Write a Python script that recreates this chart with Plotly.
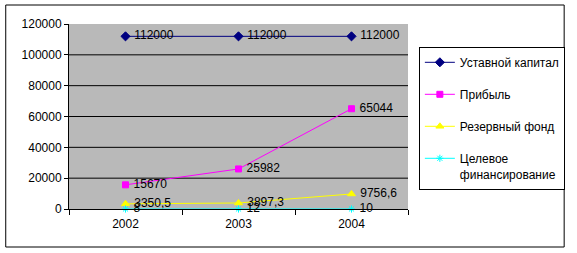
import plotly.graph_objects as go

years = ["2002", "2003", "2004"]
ustav = [112000, 112000, 112000]
pribyl = [15670, 25982, 65044]
rezerv = [3350.5, 3897.3, 9756.6]
celevoe = [8, 12, 10]
y_ticks = [0, 20000, 40000, 60000, 80000, 100000, 120000]
grid_vals = [20000, 40000, 60000, 80000, 100000]

names = ["Уставной капитал", "Прибыль", "Резервный фонд", "Целевое<br>финансирование"]

def fmt(v):
    s = ("%g" % v)
    return " " + s.replace(".", ",")

series = [
    (names[0], ustav, "#000080", "diamond", 7),
    (names[1], pribyl, "#FF00FF", "square", 6),
    (names[2], rezerv, "#FFFF00", "triangle-up", 7),
    (names[3], celevoe, "#00FFFF", "asterisk-open", 6),
]

fig = go.Figure()
for i, (nm, vals, col, sym, sz) in enumerate(series):
    fig.add_trace(go.Scatter(
        x=years, y=vals, name=nm, mode="lines+markers+text",
        line=dict(color=col, width=1),
        marker=dict(color=col, symbol=sym, size=sz, line=dict(color=col, width=1)),
        text=[fmt(v) for v in vals], textposition="middle right",
        textfont=dict(family="Liberation Sans, Arial", size=12, color="black"),
        legendgroup="g%d" % i, cliponaxis=False,
    ))

L, R, T, B = 69, 165, 24, 44
W, H = 577, 253
pw, ph = W - L - R, H - T - B

shapes = [dict(
    type="rect", xref="paper", yref="paper",
    x0=(5 - L) / pw, x1=(570 - L) / pw,
    y0=(H - B - 247) / ph, y1=(H - B - 5) / ph,
    line=dict(color="black", width=1), fillcolor="rgba(0,0,0,0)", layer="below",
)]
for g in grid_vals:
    shapes.append(dict(type="line", xref="paper", yref="y", x0=0, x1=1, y0=g, y1=g,
                       line=dict(color="black", width=1), layer="below"))

fig.update_layout(
    width=W, height=H, margin=dict(l=L, r=R, t=T, b=B),
    paper_bgcolor="white", plot_bgcolor="#b9b9b9",
    font=dict(family="Liberation Sans, Arial", size=12, color="black"),
    showlegend=True,
    legend=dict(
        x=(423 - L) / pw, y=(H - B - 47) / ph, xanchor="left", yanchor="top",
        bordercolor="black", borderwidth=1, bgcolor="white",
        traceorder="grouped", tracegroupgap=13, valign="top",
        font=dict(family="Liberation Sans, Arial", size=12, color="black"),
    ),
    xaxis=dict(
        type="category", showline=True, linecolor="black", linewidth=1,
        ticks="outside", tickson="boundaries", ticklen=5, tickcolor="black",
        showgrid=False, range=[-0.5, 2.5], ticklabelstandoff=4,
    ),
    yaxis=dict(
        range=[0, 120000], tickvals=y_ticks, tickformat="d", showline=True,
        linecolor="black", linewidth=1, ticks="outside", ticklen=4,
        tickcolor="black", showgrid=False, zeroline=False,
    ),
    shapes=shapes,
)

fig.write_html("out.html")
